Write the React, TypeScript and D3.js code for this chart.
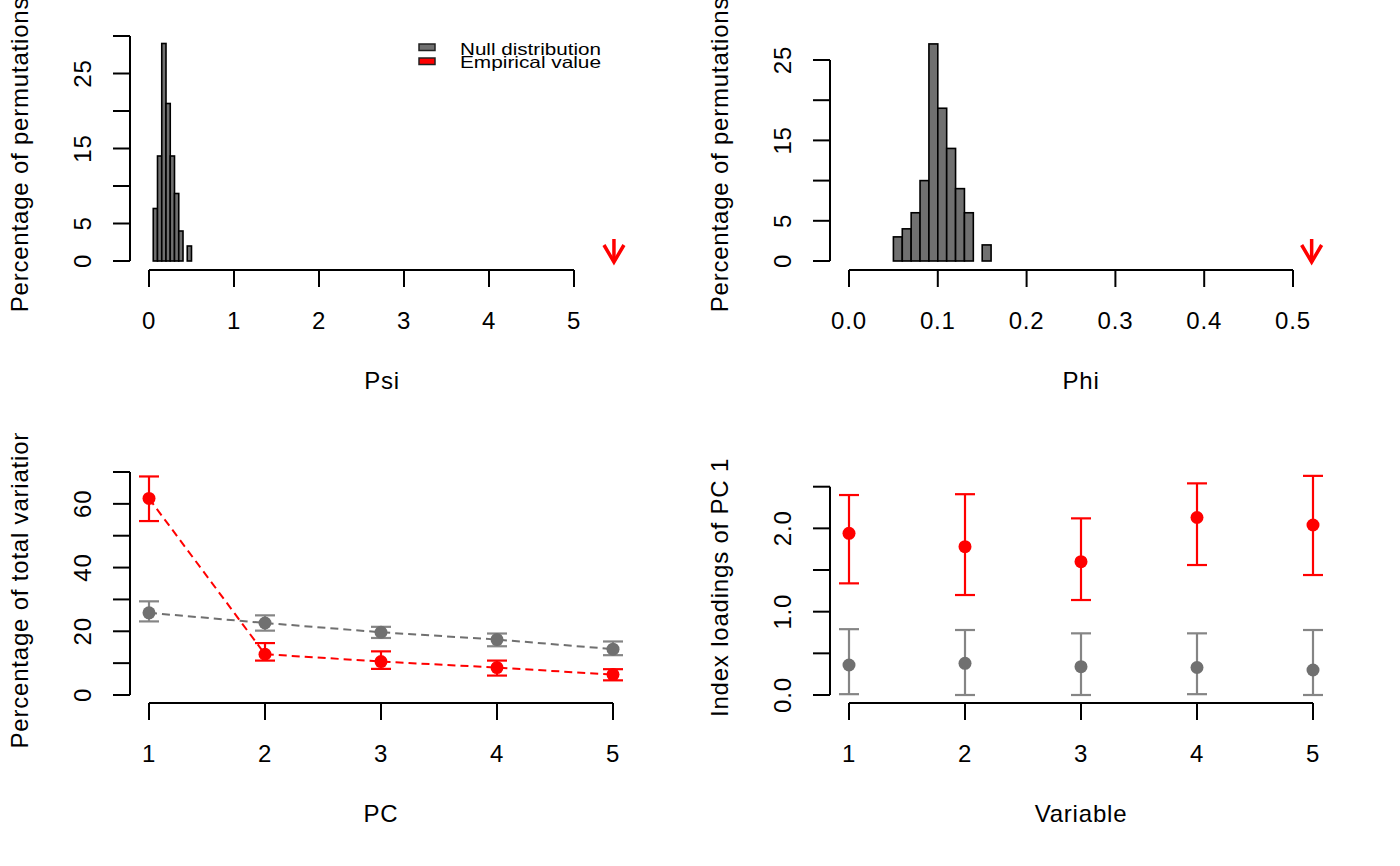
import React from "react";
import * as d3 from "d3";

// histogram of Psi (null distribution), bin edges and percentages
const psiEdges = [0.05, 0.1, 0.15, 0.2, 0.25, 0.3, 0.35, 0.4, 0.45, 0.5];
const psiCounts = [7, 14, 29, 21, 14, 9, 4, 0, 2];
const psiEmpirical = 5.47;
const psiTicks = [0, 1, 2, 3, 4, 5];

// histogram of Phi
const phiEdges = [0.05, 0.06, 0.07, 0.08, 0.09, 0.1, 0.11, 0.12, 0.13, 0.14, 0.15, 0.16];
const phiCounts = [3, 4, 6, 10, 27, 19, 14, 9, 6, 0, 2];
const phiEmpirical = 0.521;
const phiTicks = [0.0, 0.1, 0.2, 0.3, 0.4, 0.5];

// percentage of total variation per PC
const pcs = [1, 2, 3, 4, 5];
const nullVarMean = [25.8, 22.6, 19.7, 17.4, 14.4];
const nullVarLo = [23.1, 20.2, 17.9, 15.3, 12.5];
const nullVarHi = [29.4, 25.0, 21.4, 19.3, 16.8];
const empVarMean = [61.7, 12.8, 10.5, 8.6, 6.4];
const empVarLo = [54.6, 10.8, 8.2, 6.1, 4.6];
const empVarHi = [68.6, 16.3, 13.7, 10.8, 8.1];

// index loadings of PC 1 per variable
const variables = [1, 2, 3, 4, 5];
const empLoadMean = [1.94, 1.78, 1.6, 2.13, 2.04];
const empLoadLo = [1.34, 1.2, 1.14, 1.56, 1.44];
const empLoadHi = [2.4, 2.41, 2.12, 2.54, 2.63];
const nullLoadMean = [0.36, 0.38, 0.34, 0.33, 0.3];
const nullLoadLo = [0.01, 0.0, 0.0, 0.01, 0.0];
const nullLoadHi = [0.79, 0.78, 0.74, 0.74, 0.78];

const legendLabels = ["Null distribution", "Empirical value"];

const GREY = "#707070";
const GREY_BAR = "#858585";
const RED = "#ff0000";
const FONT = "'Liberation Sans', Arial, Helvetica, sans-serif";
const FS = 24;
const LS = 0.8;

type Scale = d3.ScaleLinear<number, number>;

// R-style left axis with labels parallel to axis
const YAxis = ({ y, x0, ticks, labels }: { y: Scale; x0: number; ticks: number[]; labels: Map<number, string> }) => (
  <g>
    <line x1={x0} x2={x0} y1={y(ticks[0])} y2={y(ticks[ticks.length - 1])} stroke="#000" strokeWidth={2} />
    {ticks.map((t) => (
      <line key={t} x1={x0 - 17} x2={x0} y1={y(t)} y2={y(t)} stroke="#000" strokeWidth={2} />
    ))}
    {ticks.filter((t) => labels.has(t)).map((t) => (
      <text key={"l" + t} transform={`translate(${x0 - 39},${y(t)}) rotate(-90)`} textAnchor="middle"
        fontSize={FS} letterSpacing={LS} fontFamily={FONT}>{labels.get(t)}</text>
    ))}
  </g>
);

const XAxis = ({ x, y0, ticks, fmt }: { x: Scale; y0: number; ticks: number[]; fmt: (v: number) => string }) => (
  <g>
    <line x1={x(ticks[0])} x2={x(ticks[ticks.length - 1])} y1={y0} y2={y0} stroke="#000" strokeWidth={2} />
    {ticks.map((t) => (
      <g key={t}>
        <line x1={x(t)} x2={x(t)} y1={y0} y2={y0 + 17} stroke="#000" strokeWidth={2} />
        <text x={x(t)} y={y0 + 59} textAnchor="middle" fontSize={FS} letterSpacing={LS} fontFamily={FONT}>{fmt(t)}</text>
      </g>
    ))}
  </g>
);

const Title = ({ x, y, text, vertical }: { x: number; y: number; text: string; vertical?: boolean }) => (
  <text transform={vertical ? `translate(${x},${y}) rotate(-90)` : `translate(${x},${y})`} textAnchor="middle"
    fontSize={FS} letterSpacing={LS} fontFamily={FONT}>{text}</text>
);

const Hist = ({ x, y, edges, counts }: { x: Scale; y: Scale; edges: number[]; counts: number[] }) => (
  <g>
    {counts.map((c, i) =>
      c > 0 ? (
        <rect key={i} x={x(edges[i])} y={y(c)} width={x(edges[i + 1]) - x(edges[i])} height={y(0) - y(c)}
          fill={GREY} stroke="#000" strokeWidth={1.6} />
      ) : null
    )}
  </g>
);

const Arrow = ({ x, y0 }: { x: number; y0: number }) => (
  <g stroke={RED} strokeWidth={3.5} fill="none">
    <line x1={x} x2={x} y1={y0 - 22} y2={y0 + 1} />
    <path d={`M${x - 10},${y0 - 16}L${x},${y0 + 1}L${x + 10},${y0 - 16}`} />
  </g>
);

const ErrPoints = ({ x, y, xs, mean, lo, hi, color, barColor }: {
  x: Scale; y: Scale; xs: number[]; mean: number[]; lo: number[]; hi: number[]; color: string; barColor: string;
}) => (
  <g>
    {xs.map((v, i) => (
      <g key={i} stroke={barColor} strokeWidth={2.2}>
        <line x1={x(v)} x2={x(v)} y1={y(lo[i])} y2={y(hi[i])} />
        <line x1={x(v) - 10} x2={x(v) + 10} y1={y(lo[i])} y2={y(lo[i])} />
        <line x1={x(v) - 10} x2={x(v) + 10} y1={y(hi[i])} y2={y(hi[i])} />
      </g>
    ))}
    {xs.map((v, i) => (
      <circle key={"p" + i} cx={x(v)} cy={y(mean[i])} r={6.5} fill={color} />
    ))}
  </g>
);

export default function App() {
  // top-left: Psi
  const xPsi = d3.scaleLinear().domain([0, 5]).range([149, 574]);
  const yPsi = d3.scaleLinear().domain([0, 30]).range([261, 36]);
  // top-right: Phi
  const xPhi = d3.scaleLinear().domain([0, 0.5]).range([849, 1293]);
  const yPhi = d3.scaleLinear().domain([0, 25]).range([261, 60]);
  // bottom-left: variation
  const xPc = d3.scaleLinear().domain([1, 5]).range([149, 613]);
  const yVar = d3.scaleLinear().domain([0, 70]).range([695, 472]);
  // bottom-right: loadings
  const xVb = d3.scaleLinear().domain([1, 5]).range([849, 1313]);
  const yLoad = d3.scaleLinear().domain([0, 2.5]).range([695, 486.7]);

  const line = (xs: number[], ys: number[], x: Scale, y: Scale) =>
    d3.line<number>().x((d) => x(d)).y((_, i) => y(ys[i]))(xs) || "";

  return (
    <svg width={1400} height={866} style={{ position: "absolute", left: 0, top: 0, background: "#fff" }}>
      <defs>
        <clipPath id="rowBottom"><rect x={0} y={433} width={1400} height={433} /></clipPath>
        <clipPath id="rowTop"><rect x={0} y={0} width={1400} height={433} /></clipPath>
      </defs>

      {/* Psi panel */}
      <Hist x={xPsi} y={yPsi} edges={psiEdges} counts={psiCounts} />
      <YAxis y={yPsi} x0={130} ticks={[0, 5, 10, 15, 20, 25, 30]} labels={new Map([[0, "0"], [5, "5"], [15, "15"], [25, "25"]])} />
      <XAxis x={xPsi} y0={270} ticks={psiTicks} fmt={(v) => String(v)} />
      <Arrow x={xPsi(psiEmpirical)} y0={yPsi(0)} />
      <Title x={382} y={389} text="Psi" />
      <g clipPath="url(#rowTop)">
        <Title x={28} y={154.5} text="Percentage of permutations" vertical />
      </g>
      <g>
        {legendLabels.map((l, i) => (
          <g key={l}>
            <rect x={419} y={44 + i * 14} width={16} height={6.5} fill={i === 0 ? GREY : RED} stroke="#222" strokeWidth={1.5} />
            <text x={460} y={55 + i * 12.5} fontSize={16.5} fontFamily={FONT} textLength={141} lengthAdjust="spacingAndGlyphs">{l}</text>
          </g>
        ))}
      </g>

      {/* Phi panel */}
      <Hist x={xPhi} y={yPhi} edges={phiEdges} counts={phiCounts} />
      <YAxis y={yPhi} x0={830} ticks={[0, 5, 10, 15, 20, 25]} labels={new Map([[0, "0"], [5, "5"], [15, "15"], [25, "25"]])} />
      <XAxis x={xPhi} y0={270} ticks={phiTicks} fmt={(v) => v.toFixed(1)} />
      <Arrow x={xPhi(phiEmpirical)} y0={yPhi(0)} />
      <Title x={1081} y={389} text="Phi" />
      <g clipPath="url(#rowTop)">
        <Title x={728} y={154.5} text="Percentage of permutations" vertical />
      </g>

      {/* variation panel */}
      <path d={line(pcs, nullVarMean, xPc, yVar)} fill="none" stroke={GREY} strokeWidth={2} strokeDasharray="8,5" />
      <path d={line(pcs, empVarMean, xPc, yVar)} fill="none" stroke={RED} strokeWidth={2} strokeDasharray="8,5" />
      <ErrPoints x={xPc} y={yVar} xs={pcs} mean={nullVarMean} lo={nullVarLo} hi={nullVarHi} color={GREY} barColor={GREY_BAR} />
      <ErrPoints x={xPc} y={yVar} xs={pcs} mean={empVarMean} lo={empVarLo} hi={empVarHi} color={RED} barColor={RED} />
      <YAxis y={yVar} x0={130} ticks={[0, 10, 20, 30, 40, 50, 60, 70]} labels={new Map([[0, "0"], [20, "20"], [40, "40"], [60, "60"]])} />
      <XAxis x={xPc} y0={703} ticks={pcs} fmt={(v) => String(v)} />
      <Title x={381} y={822} text="PC" />
      <g clipPath="url(#rowBottom)">
        <Title x={28} y={587.5} text="Percentage of total variation" vertical />
      </g>

      {/* loadings panel */}
      <ErrPoints x={xVb} y={yLoad} xs={variables} mean={nullLoadMean} lo={nullLoadLo} hi={nullLoadHi} color={GREY} barColor={GREY_BAR} />
      <ErrPoints x={xVb} y={yLoad} xs={variables} mean={empLoadMean} lo={empLoadLo} hi={empLoadHi} color={RED} barColor={RED} />
      <YAxis y={yLoad} x0={830} ticks={[0, 0.5, 1, 1.5, 2, 2.5]} labels={new Map([[0, "0.0"], [1, "1.0"], [2, "2.0"]])} />
      <XAxis x={xVb} y0={703} ticks={variables} fmt={(v) => String(v)} />
      <Title x={1081} y={822} text="Variable" />
      <g clipPath="url(#rowBottom)">
        <Title x={728} y={587.5} text="Index loadings of PC 1" vertical />
      </g>
    </svg>
  );
}
